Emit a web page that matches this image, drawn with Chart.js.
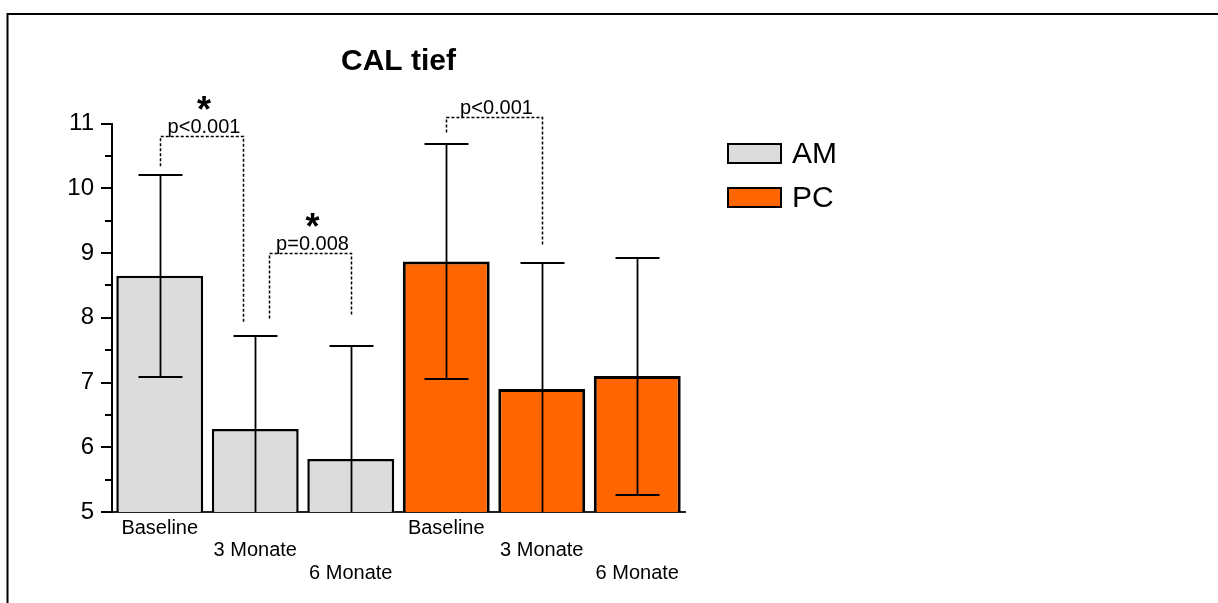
<!DOCTYPE html>
<html>
<head>
<meta charset="utf-8">
<title>CAL tief</title>
<script src="https://cdn.jsdelivr.net/npm/chart.js@4/dist/chart.umd.min.js"></script>
<style>
    html, body { margin: 0; padding: 0; background: #fff; }
    #wrap { width: 1218px; height: 603px; }
</style>
</head>
<body>
<div id="wrap"><canvas id="calChart" width="1218" height="603"></canvas></div>
<script>
// Data
const categories = ["Baseline", "3 Monate", "6 Monate", "Baseline", "3 Monate", "6 Monate"];
const amMeans = [8.65, 6.28, 5.82];
const amSD = [1.56, 1.44, 1.74];
const pcMeans = [8.87, 6.90, 7.10];
const pcSD = [1.82, 1.95, 1.83];
const yTicks = [5, 6, 7, 8, 9, 10, 11];
const yMinorTicks = [5.5, 6.5, 7.5, 8.5, 9.5, 10.5];

// significance brackets (x in category index units, y in CAL units)
const comparisons = [
    { from: 0, to: 0.87, top: 10.80, fromEnd: 10.34, toEnd: 7.92, label: "p<0.001", star: true },
    { from: 1.14, to: 2, top: 9.00, fromEnd: 7.99, toEnd: 8.04, label: "p=0.008", star: true },
    { from: 3, to: 4, top: 11.10, fromEnd: 10.86, toEnd: 9.10, label: "p<0.001", star: false }
];

Chart.defaults.font.family = "'Liberation Sans', Arial, sans-serif";
Chart.defaults.color = "#000";

// staggered category labels: Baseline / 3 Monate / 6 Monate on three rows
const xLabels = categories.map((c, i) => {
    const row = i % 3;
    const lines = [];
    for (let k = 0; k < row; k++) lines.push("");
    lines.push(c);
    return lines;
});

const pad3 = arr => arr.concat([null, null, null]);
const pre3 = arr => [null, null, null].concat(arr);

/**
 * PLUGINS
 */
const framePlugin = {
    id: "frame",
    beforeDraw(chart) {
        const ctx = chart.ctx;
        ctx.save();
        ctx.strokeStyle = "#000";
        ctx.lineWidth = 2;
        ctx.beginPath();
        ctx.moveTo(7.5, chart.height);
        ctx.lineTo(7.5, 14);
        ctx.lineTo(chart.width, 14);
        ctx.stroke();
        ctx.restore();
    }
};

const minorTickPlugin = {
    id: "minorTicks",
    afterDraw(chart) {
        const { ctx, chartArea, scales: { y } } = chart;
        ctx.save();
        ctx.strokeStyle = "#000";
        ctx.lineWidth = 2;
        yMinorTicks.forEach(v => {
            const py = Math.round(y.getPixelForValue(v));
            ctx.beginPath();
            ctx.moveTo(chartArea.left - 7, py);
            ctx.lineTo(chartArea.left, py);
            ctx.stroke();
        });
        ctx.restore();
    }
};

const errorBarPlugin = {
    id: "errorBars",
    afterDatasetsDraw(chart) {
        const { ctx, chartArea, scales: { y } } = chart;
        ctx.save();
        ctx.beginPath();
        ctx.rect(chartArea.left, 0, chartArea.width, chartArea.bottom);
        ctx.clip();
        ctx.strokeStyle = "#000";
        ctx.lineWidth = 1.8;
        chart.data.datasets.forEach((ds, di) => {
            const meta = chart.getDatasetMeta(di);
            meta.data.forEach((bar, i) => {
                const v = ds.data[i];
                const e = ds.errors[i];
                if (v == null || e == null) return;
                const x = Math.round(bar.x) + 0.5;
                const yHi = Math.round(y.getPixelForValue(v + e));
                const yLo = Math.round(y.getPixelForValue(v - e));
                const cap = 22;
                ctx.beginPath();
                ctx.moveTo(x, yHi);
                ctx.lineTo(x, yLo);
                ctx.moveTo(x - cap, yHi);
                ctx.lineTo(x + cap, yHi);
                ctx.moveTo(x - cap, yLo);
                ctx.lineTo(x + cap, yLo);
                ctx.stroke();
            });
        });
        ctx.restore();
    }
};

const bracketPlugin = {
    id: "brackets",
    afterDraw(chart) {
        const { ctx, scales: { x, y } } = chart;
        ctx.save();
        comparisons.forEach(c => {
            const x1 = Math.round(x.getPixelForValue(c.from)) + 0.5;
            const x2 = Math.round(x.getPixelForValue(c.to)) + 0.5;
            const yt = Math.round(y.getPixelForValue(c.top)) + 0.5;
            ctx.strokeStyle = "#000";
            ctx.lineWidth = 1.5;
            ctx.setLineDash([3, 2]);
            ctx.beginPath();
            ctx.moveTo(x1, y.getPixelForValue(c.fromEnd));
            ctx.lineTo(x1, yt);
            ctx.lineTo(x2, yt);
            ctx.lineTo(x2, y.getPixelForValue(c.toEnd));
            ctx.stroke();
            ctx.setLineDash([]);

            const mid = (x1 + x2) / 2 + 2;
            const base = yt - 4;
            ctx.fillStyle = "#000";
            ctx.textAlign = "center";
            ctx.textBaseline = "alphabetic";
            ctx.font = "20px 'Liberation Sans', Arial, sans-serif";
            ctx.fillText(c.label, mid, base);
            if (c.star) {
                ctx.font = "bold 36px 'Liberation Sans', Arial, sans-serif";
                ctx.fillText("*", mid, base - 11);
            }
        });
        ctx.restore();
    }
};

const legendPlugin = {
    id: "boxLegend",
    afterDraw(chart) {
        const ctx = chart.ctx;
        ctx.save();
        chart.data.datasets.forEach((ds, i) => {
            const bx = 727, by = 143 + i * 44, bw = 55, bh = 21;
            ctx.fillStyle = ds.backgroundColor;
            ctx.fillRect(bx, by, bw, bh);
            ctx.strokeStyle = "#000";
            ctx.lineWidth = 2;
            ctx.strokeRect(bx + 1, by + 1, bw - 2, bh - 2);
            ctx.fillStyle = "#000";
            ctx.font = "30px 'Liberation Sans', Arial, sans-serif";
            ctx.textAlign = "left";
            ctx.textBaseline = "middle";
            ctx.fillText(ds.label, bx + bw + 10, by + bh / 2 + 1);
        });
        ctx.restore();
    }
};

/**
 * CHART
 */
function renderCalChart() {
    const canvas = document.getElementById("calChart");
    if (!canvas) return;

    window.calChart = new Chart(canvas, {
        type: "bar",
        data: {
            labels: xLabels,
            datasets: [
                {
                    label: "AM",
                    data: pad3(amMeans),
                    errors: pad3(amSD),
                    backgroundColor: "#dcdcdc",
                    borderColor: "#000",
                    borderWidth: 2.5,
                    borderSkipped: false,
                    grouped: false,
                    barPercentage: 0.91,
                    categoryPercentage: 1
                },
                {
                    label: "PC",
                    data: pre3(pcMeans),
                    errors: pre3(pcSD),
                    backgroundColor: "#ff6600",
                    borderColor: "#000",
                    borderWidth: 3,
                    borderSkipped: false,
                    grouped: false,
                    barPercentage: 0.91,
                    categoryPercentage: 1
                }
            ]
        },
        options: {
            responsive: false,
            animation: false,
            layout: { padding: { left: 42, right: 533, top: 44, bottom: 11 } },
            plugins: {
                legend: { display: false },
                tooltip: { enabled: false },
                title: {
                    display: true,
                    text: "CAL tief",
                    fullSize: false,
                    font: { size: 30, weight: "bold", lineHeight: 1.2 },
                    color: "#000",
                    padding: { top: 0, bottom: 43.5 }
                }
            },
            scales: {
                x: {
                    type: "category",
                    offset: true,
                    grid: { display: false, drawTicks: false },
                    border: { display: true, color: "#222", width: 2 },
                    ticks: {
                        font: { size: 20, lineHeight: 1.13 },
                        color: "#000",
                        padding: 5,
                        maxRotation: 0,
                        autoSkip: false
                    },
                    afterFit(scale) { scale.height = 80; }
                },
                y: {
                    min: yTicks[0],
                    max: yTicks[yTicks.length - 1],
                    afterBuildTicks(scale) { scale.ticks = yTicks.map(v => ({ value: v })); },
                    ticks: { font: { size: 24 }, color: "#000", padding: 7 },
                    grid: { drawOnChartArea: false, drawTicks: true, tickLength: 11, color: "#000", lineWidth: 2 },
                    border: { display: true, color: "#000", width: 2 },
                    afterFit(scale) { scale.width = 70; }
                }
            }
        },
        plugins: [framePlugin, errorBarPlugin, minorTickPlugin, bracketPlugin, legendPlugin]
    });
}

renderCalChart();
</script>
</body>
</html>
